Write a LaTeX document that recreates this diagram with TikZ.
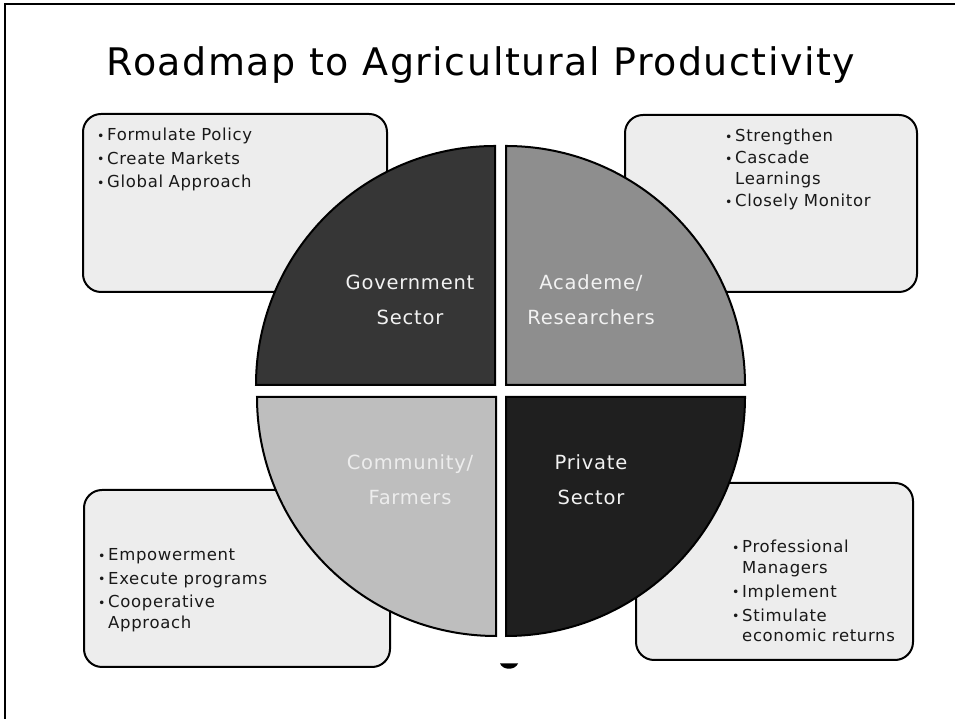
\documentclass[tikz,border=0pt]{standalone}
\usepackage{fontspec}
\setmainfont[LetterSpace=4]{DejaVu Sans}
\definecolor{govc}{HTML}{363636}
\definecolor{acac}{HTML}{8E8E8E}
\definecolor{comc}{HTML}{BEBEBE}
\definecolor{prvc}{HTML}{1F1F1F}
\definecolor{boxc}{HTML}{EDEDED}
\definecolor{lbl}{HTML}{F2F2F2}
\newcommand\bu{\makebox[10pt][l]{\fontsize{12.5}{10}\selectfont\raisebox{0.6pt}{•}}}
\newcommand\hi{\hspace*{10pt}}
\tikzset{
  infobox/.style={draw=black, line width=2pt, fill=boxc, rounded corners=18pt, inner sep=0pt},
  quad/.style={draw=black, line width=2pt},
  bullets/.style={anchor=base west, inner sep=0pt, text width=220pt, align=left,
    font=\fontsize{16.5}{20.5}\selectfont, text=black!90},
  qlabel/.style={anchor=base, inner sep=0pt, text width=160pt, align=center,
    font=\fontsize{19.5}{35}\selectfont, text=lbl},
}
\begin{document}
\begin{tikzpicture}[x=1pt,y=1pt]
\useasboundingbox (0,0) rectangle (955,719);
% frame
\draw[line width=2pt] (5,0) -- (5,715) -- (955,715);
% title
\node[anchor=base, inner sep=0pt, font=\fontsize{38}{40}\selectfont] (title) at (481,643) {Roadmap to Agricultural Productivity};
% boxes
\node[infobox, minimum width=304pt, minimum height=178pt] (tlbox) at (235,516) {};
\node[infobox, minimum width=292pt, minimum height=177pt] (trbox) at (771,515.5) {};
\node[infobox, minimum width=306pt, minimum height=177pt] (blbox) at (237,140.5) {};
\node[infobox, minimum width=277pt, minimum height=177pt] (brbox) at (774.5,147.5) {};
% quadrants
\draw[quad, fill=govc] (495,334) -- (256,334) arc[start angle=180, end angle=90, radius=239] -- cycle;
\draw[quad, fill=acac] (506,334) -- (506,573) arc[start angle=90, end angle=0, radius=239] -- cycle;
\draw[quad, fill=comc] (496,322) -- (257,322) arc[start angle=180, end angle=270, radius=239] -- cycle;
\draw[quad, fill=prvc] (506,322) -- (745,322) arc[start angle=0, end angle=-90, radius=239] -- cycle;
% quadrant labels
\node[qlabel] (gov) at (410,429) {Government\\Sector};
\node[qlabel] (aca) at (591,429) {Academe/\\Researchers};
\node[qlabel, text=boxc] (com) at (410,249) {Community/\\Farmers};
\node[qlabel] (prv) at (591,249) {Private\\Sector};
% bullet texts
\node[bullets] (tltxt) at (97,578) {\bu Formulate Policy\\[3pt]\bu Create Markets\\[3pt]\bu Global Approach};
\node[bullets] (trtxt) at (725,577) {\bu Strengthen\\[1.5pt]\bu Cascade\\\hi Learnings\\[2pt]\bu Closely Monitor};
\node[bullets] (bltxt) at (98,158) {\bu Empowerment\\[3pt]\bu Execute programs\\[3pt]\bu Cooperative\\\hi Approach};
\node[bullets] (brtxt) at (732,166) {\bu Professional\\\hi Managers\\[3.5pt]\bu Implement\\[3.5pt]\bu Stimulate\\\hi economic returns};
% small mark
\fill (500,55.5) .. controls (503,48.5) and (515,48.5) .. (518,55.5) -- cycle;
\end{tikzpicture}
\end{document}
